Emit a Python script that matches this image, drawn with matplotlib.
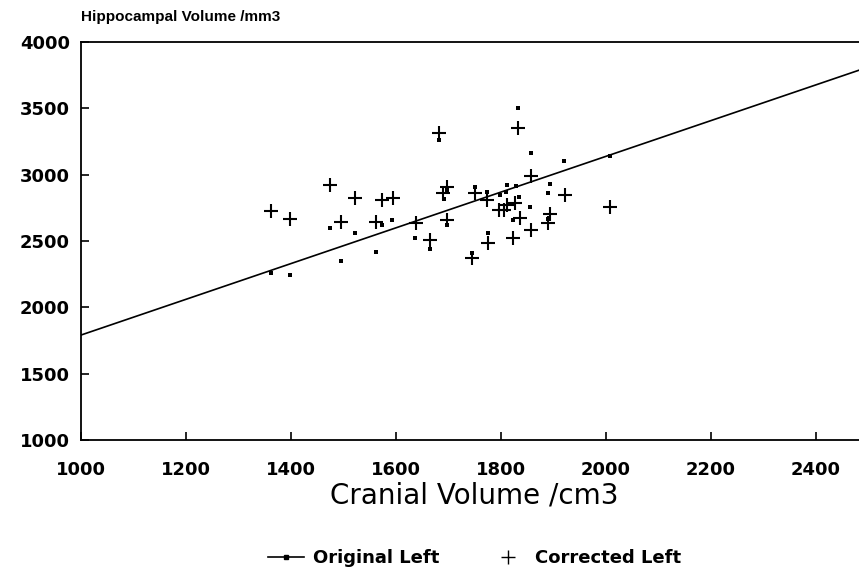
import numpy as np
import matplotlib
matplotlib.use('Agg')
import matplotlib.pyplot as plt
from matplotlib.lines import Line2D

plt.rcParams['font.family'] = ['DejaVu Sans']

# original left (dots)
orig_x = [1362, 1399, 1474, 1495, 1521, 1561, 1574, 1592, 1636, 1664, 1681,
          1692, 1697, 1697, 1744, 1750, 1773, 1776, 1798, 1810, 1812, 1822,
          1828, 1832, 1835, 1856, 1858, 1890, 1890, 1893, 1921, 2008]
orig_y = [2256, 2243, 2595, 2349, 2562, 2419, 2618, 2656, 2522, 2437, 3261,
          2814, 2884, 2620, 2407, 2909, 2866, 2562, 2846, 2866, 2922, 2658,
          2914, 3500, 2829, 2758, 3165, 2859, 2666, 2929, 3106, 3140]

# corrected left (crosses)
corr_x = [1362, 1399, 1474, 1495, 1522, 1561, 1574, 1594, 1638, 1664, 1681,
          1690, 1697, 1697, 1745, 1750, 1773, 1776, 1797, 1806, 1811, 1822,
          1827, 1832, 1836, 1858, 1858, 1890, 1893, 1922, 2008]
corr_y = [2726, 2663, 2922, 2640, 2821, 2640, 2808, 2821, 2638, 2507, 3311,
          2859, 2909, 2658, 2369, 2859, 2808, 2482, 2733, 2733, 2771, 2519,
          2784, 3349, 2673, 2989, 2582, 2633, 2703, 2846, 2758]

# regression line of original left
reg_intercept = 1791   # value at x = 1000
reg_slope = 1.347

xticks = [1000, 1200, 1400, 1600, 1800, 2000, 2200, 2400]
yticks = [1000, 1500, 2000, 2500, 3000, 3500, 4000]


def main():
    fig = plt.figure(figsize=(8.59, 5.75), dpi=100)
    ax = fig.add_axes([0.0943, 0.2348, 0.9057, 0.6922])

    xmin, xmax = 1000, 2482
    ax.set_xlim(xmin, xmax)
    ax.set_ylim(1000, 4000)

    lx = np.array([xmin, xmax])
    ax.plot(lx, reg_intercept + reg_slope * (lx - 1000), color='black', lw=1.2)
    ax.plot(orig_x, orig_y, 's', color='black', ms=3.3, mew=0)
    ax.plot(corr_x, corr_y, '+', color='black', ms=10, mew=1.5)

    ax.spines['right'].set_visible(False)
    for s in ['left', 'bottom', 'top']:
        ax.spines[s].set_linewidth(1.3)

    ax.set_xticks(xticks)
    ax.set_yticks(yticks)
    ax.tick_params(direction='in', length=6, width=1.2, labelsize=13)
    ax.tick_params(axis='x', pad=15)
    ax.tick_params(axis='y', pad=8)
    for lab in ax.get_xticklabels() + ax.get_yticklabels():
        lab.set_fontweight('bold')

    fig.text(0.0943, 0.958, 'Hippocampal Volume /mm3', fontsize=11,
             fontweight='bold', ha='left', va='bottom',
             family='Liberation Sans')
    fig.text(0.552, 1 - 495 / 575, 'Cranial Volume /cm3', fontsize=20,
             ha='center', va='center')

    handles = [
        Line2D([0], [0], color='black', lw=1.2, marker='s', ms=3),
        Line2D([0], [0], color='black', lw=0, marker='+', ms=10, mew=1),
    ]
    fig.legend(handles, ['Original Left', 'Corrected Left'], loc='center',
               bbox_to_anchor=(0.552, 1 - 558 / 575), ncol=2, frameon=False,
               prop={'size': 13, 'weight': 'bold'}, columnspacing=2.8,
               handlelength=2, handletextpad=0.5)

    fig.savefig('out.png', dpi=100)


if __name__ == '__main__':
    main()
